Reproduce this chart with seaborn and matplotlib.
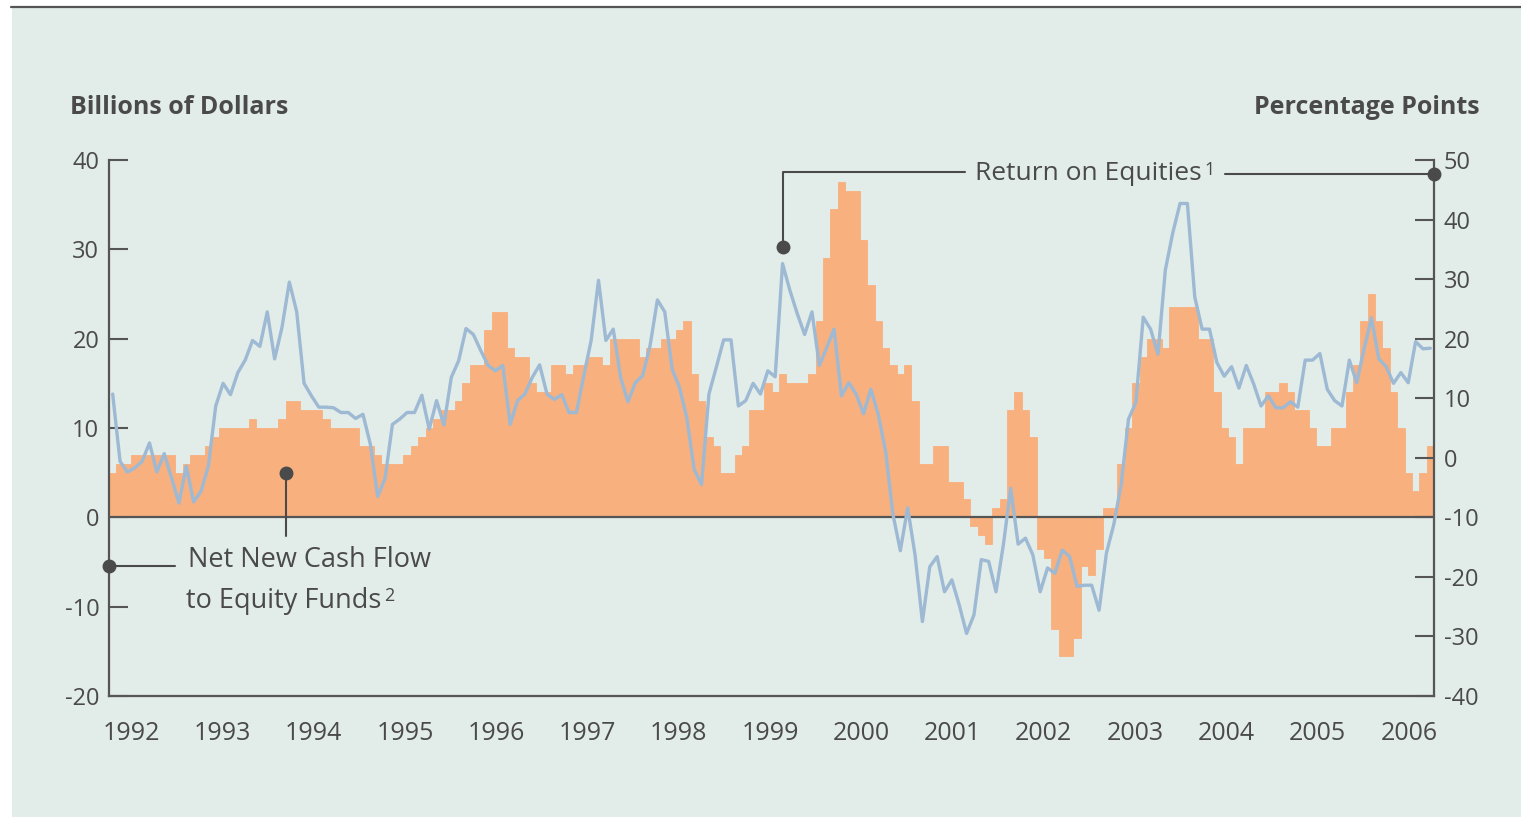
import numpy as np
import pandas as pd
import matplotlib
matplotlib.use("Agg")
import matplotlib.pyplot as plt
from matplotlib.patches import Rectangle
from matplotlib.lines import Line2D
import seaborn as sns

# ---------------- data (monthly, Jan 1992 - Dec 2006) ----------------
year_labels = [str(y) for y in range(1992, 2007)]

net_flow = [  # billions of dollars (left axis)
    5, 6, 6, 7, 7, 7, 7, 7, 7, 5, 6, 7,
    7, 8, 9, 10, 10, 10, 10, 11, 10, 10, 10, 11,
    13, 13, 12, 12, 12, 11, 10, 10, 10, 10, 8, 8,
    7, 6, 6, 6, 7, 8, 9, 10, 11, 12, 12, 13,
    15, 17, 17, 21, 23, 23, 19, 18, 18, 15, 14, 14,
    17, 17, 16, 17, 17, 18, 18, 17, 20, 20, 20, 20,
    18, 19, 19, 20, 20, 21, 22, 16, 13, 9, 8, 5,
    5, 7, 8, 12, 12, 15, 14, 16, 15, 15, 15, 16,
    22, 29, 34.5, 37.5, 36.5, 36.5, 31, 26, 22, 19, 17, 16,
    17, 13, 6, 6, 8, 8, 4, 4, 2, -1, -2, -3,
    1, 2, 12, 14, 12, 9, -3.5, -4.5, -12.5, -15.5, -15.5, -13.5,
    -5.5, -6.5, -3.5, 1, 1, 6, 10, 15, 18, 20, 20, 19,
    23.5, 23.5, 23.5, 23.5, 20, 20, 14, 10, 9, 6, 10, 10,
    10, 14, 14, 15, 14, 12, 12, 10, 8, 8, 10, 10,
    14, 17, 22, 25, 22, 19, 14, 10, 5, 3, 5, 8,
]

equity_return = [  # percentage points (right axis)
    10.7, -0.6, -2.4, -1.7, -0.6, 2.5, -2.4, 0.7, -3.4, -7.6, -1.4, -7.4,
    -5.6, -1.4, 8.7, 12.5, 10.6, 14.3, 16.4, 19.7, 18.7, 24.5, 16.6, 21.9,
    29.5, 24.5, 12.5, 10.4, 8.5, 8.5, 8.4, 7.6, 7.6, 6.6, 7.3, 2.3,
    -6.5, -3.5, 5.6, 6.5, 7.6, 7.6, 10.5, 4.8, 9.6, 5.5, 13.5, 16.3,
    21.7, 20.7, 18.0, 15.5, 14.6, 15.5, 5.6, 9.6, 10.7, 13.5, 15.6, 10.7,
    9.8, 10.6, 7.6, 7.6, 13.8, 19.7, 29.8, 19.7, 21.6, 13.5, 9.4, 12.6,
    13.8, 18.8, 26.5, 24.5, 14.9, 11.8, 6.7, -2.0, -4.5, 10.7, 15.2, 19.8,
    19.8, 8.7, 9.6, 12.5, 10.7, 14.6, 13.6, 32.6, 28.1, 24.2, 20.7, 24.5,
    15.5, 18.5, 21.6, 10.4, 12.6, 10.7, 7.4, 11.5, 7.3, 1.1, -9.5, -15.6,
    -8.4, -16.3, -27.5, -18.3, -16.6, -22.5, -20.5, -24.7, -29.5, -26.4, -17.1, -17.4,
    -22.5, -14.6, -5.1, -14.5, -13.5, -16.3, -22.5, -18.5, -19.4, -15.5, -16.6, -21.6,
    -21.4, -21.4, -25.6, -16.0, -11.2, -4.5, 6.5, 9.3, 23.6, 21.6, 17.4, 31.5,
    37.7, 42.7, 42.7, 27.0, 21.6, 21.6, 16.0, 13.7, 15.3, 11.7, 15.5, 12.4,
    8.7, 10.4, 8.4, 8.4, 9.4, 8.5, 16.4, 16.4, 17.5, 11.5, 9.6, 8.7,
    16.4, 12.6, 18.3, 23.5, 16.6, 15.3, 12.5, 14.3, 12.6, 19.5, 18.3, 18.4,
]

months = np.arange(len(net_flow))
df = pd.DataFrame({"month": months, "flow": net_flow, "ret": equity_return})

# ---------------- style ----------------
sns.set_theme(style="white")
plt.rcParams["font.family"] = ["Open Sans", "DejaVu Sans"]
plt.rcParams["axes.unicode_minus"] = False

BG = "#e2ece8"
BAR = "#f9b07f"
LINE = "#9db9d3"
INK = "#4a4a4a"
AXC = "#555555"

W, H = 1521, 817
fig = plt.figure(figsize=(W / 100, H / 100), dpi=100)
fig.patch.set_facecolor("white")
fig.patches.append(Rectangle((12 / W, 0), 1, (H - 8) / H, transform=fig.transFigure,
                             facecolor=BG, edgecolor="none", zorder=-10))
fig.add_artist(Line2D([11 / W, 1], [1 - 7 / H] * 2, color=AXC, lw=1.6))

ax = fig.add_axes([109 / W, 1 - 696 / H, (1434 - 109) / W, (696 - 160) / H])
ax.set_facecolor(BG)

sns.barplot(data=df, x="month", y="flow", native_scale=True, width=1.0,
            color=BAR, saturation=1, errorbar=None, linewidth=0.6,
            edgecolor=BAR, ax=ax)
ax.axhline(0, color=AXC, lw=1.6, zorder=3)

ax2 = ax.twinx()
sns.lineplot(data=df, x="month", y="ret", ax=ax2, color=LINE, linewidth=2.4)

ax.set_xlim(-0.5, len(net_flow) - 0.5)
ax.set_ylim(-20, 40)
ax2.set_ylim(-40, 50)

for a in (ax, ax2):
    a.set_xlabel("")
    a.set_ylabel("")
    a.spines["top"].set_visible(False)
ax.spines["right"].set_visible(False)
ax2.spines["left"].set_visible(False)
ax2.spines["bottom"].set_visible(False)
for s in ("left", "bottom"):
    ax.spines[s].set_color(AXC)
    ax.spines[s].set_linewidth(1.6)
ax2.spines["right"].set_color(AXC)
ax2.spines["right"].set_linewidth(1.6)

tick_pos = np.linspace(2.5, 176.1, len(year_labels))
ax.set_xticks(tick_pos)
ax.set_xticklabels(year_labels)
ax.set_yticks(range(-20, 41, 10))
ax2.set_yticks(range(-40, 51, 10))
ax.tick_params(axis="x", length=0, pad=18, labelsize=18, labelcolor=INK)
ax.tick_params(axis="y", direction="in", length=14, width=1.5, color=AXC,
               pad=7, labelsize=17, labelcolor=INK)
ax2.tick_params(axis="y", direction="in", length=14, width=1.5, color=AXC,
                pad=7, labelsize=17, labelcolor=INK)

# axis titles
fig.text(70 / W, 1 - 108 / H, "Billions of Dollars", ha="left", va="center",
         fontsize=18, fontweight="bold", color=INK)
fig.text(1480 / W, 1 - 108 / H, "Percentage Points", ha="right", va="center",
         fontsize=18, fontweight="bold", color=INK)

# annotation: Return on Equities
peak_i = 91
y_dot = equity_return[peak_i] + 2.8
ax2.plot([peak_i, peak_i, 115.8], [y_dot, 48, 48], color=INK, lw=1.5,
         clip_on=False, zorder=6)
ax2.plot(peak_i, y_dot, "o", ms=9, color=INK, clip_on=False, zorder=6)
t1 = ax2.text(117.1, 47.8, "Return on Equities", ha="left", va="center",
              fontsize=19, color=INK)
ax2.annotate("1", xy=(1, 1), xycoords=t1, xytext=(2, 0),
             textcoords="offset points", ha="left", va="top", fontsize=13,
             color=INK)
ax2.plot([151.1, len(net_flow) - 0.5], [47.7, 47.7], color=INK, lw=1.5,
         clip_on=False, zorder=6)
ax2.plot(len(net_flow) - 0.5, 47.7, "o", ms=9, color=INK, clip_on=False,
         zorder=6)

# annotation: Net New Cash Flow
ax.plot([23.5, 23.5], [5.0, -2.1], color=INK, lw=1.5, zorder=6)
ax.plot(23.5, 5.0, "o", ms=9, color=INK, zorder=6)
ax.text(10.2, -4.8, "Net New Cash Flow", ha="left", va="center",
        fontsize=19.5, color=INK)
t2 = ax.text(10.0, -9.4, "to Equity Funds", ha="left", va="center",
             fontsize=19.5, color=INK)
ax.annotate("2", xy=(1, 1), xycoords=t2, xytext=(2, 0),
            textcoords="offset points", ha="left", va="top", fontsize=13,
            color=INK)
ax.plot([-0.5, 8.5], [-5.4, -5.4], color=INK, lw=1.5, clip_on=False, zorder=6)
ax.plot(-0.5, -5.4, "o", ms=9, color=INK, clip_on=False, zorder=6)

fig.savefig("out.png", dpi=100, facecolor=fig.get_facecolor())
